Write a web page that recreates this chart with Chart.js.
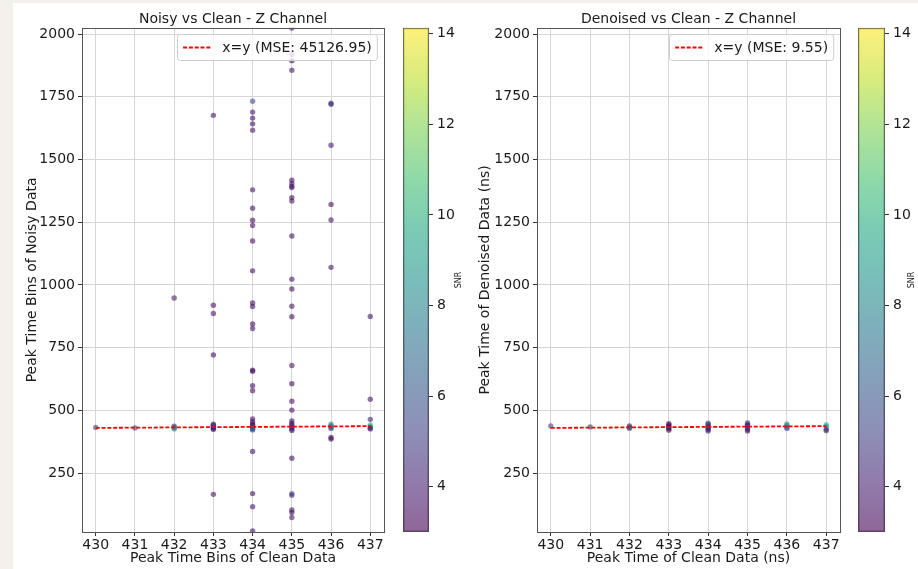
<!DOCTYPE html>
<html>
<head>
<meta charset="utf-8">
<script src="https://cdn.jsdelivr.net/npm/chart.js@4.4.0/dist/chart.umd.min.js"></script>
<style>
    body { margin: 0; background: #f4f1ed; }
    #page { position: absolute; left: 13px; top: 3px; width: 905px; height: 566px; background: #fff; }
    canvas { position: absolute; top: 0; }
</style>
</head>
<body>
<div id="page"></div>
<canvas id="noisyChart" width="395" height="569" style="left:0px"></canvas>
<canvas id="noisyBar" width="75" height="569" style="left:395px"></canvas>
<canvas id="denoisedChart" width="395" height="569" style="left:455px"></canvas>
<canvas id="denoisedBar" width="68" height="569" style="left:850px"></canvas>
<script>
// axis ticks and limits
const xTicks = [430, 431, 432, 433, 434, 435, 436, 437];
const yTicks = [250, 500, 750, 1000, 1250, 1500, 1750, 2000];
const snrTicks = [4, 6, 8, 10, 12, 14];
const xRange = [429.65, 437.35];
const yRange = [15, 2025];
const snrRange = [3.0, 14.13];

// x=y reference line
const refLineX = [430, 437];
const noisyMse = 45126.95;
const denoisedMse = 9.55;

// noisy peaks vs clean peaks
const noisyClean = [
    430,
    431,
    432, 432, 432, 432,
    433, 433, 433, 433, 433, 433, 433, 433, 433, 433, 433, 433,
    434, 434, 434, 434, 434, 434, 434, 434, 434, 434, 434, 434, 434, 434, 434, 434,
    434, 434, 434, 434, 434, 434, 434, 434, 434, 434, 434, 434, 434, 434, 434,
    435, 435, 435, 435, 435, 435, 435, 435, 435, 435, 435, 435, 435, 435, 435, 435,
    435, 435, 435, 435, 435, 435, 435, 435, 435, 435, 435, 435, 435, 435, 435, 435,
    436, 436, 436, 436, 436, 436, 436, 436, 436, 436, 436, 436,
    437, 437, 437, 437, 437, 437, 437
];
const noisyPeak = [
    432,
    430,
    437, 432, 426, 948,
    1676, 919, 886, 721, 165, 445, 440, 436, 432, 428, 424, 441,
    1732, 1689, 1665, 1642, 1617, 1379, 1306, 1258, 1237, 1175, 1056, 928, 914, 844, 826, 660,
    656, 598, 578, 466, 455, 446, 440, 435, 430, 426, 422, 336, 168, 116, 19,
    2024, 1918, 1894, 1856, 1417, 1404, 1393, 1388, 1348, 1335, 1195, 1023, 984, 915, 873, 679,
    606, 536, 501, 458, 448, 440, 435, 430, 426, 420, 309, 168, 162, 103, 93, 73,
    1724, 1720, 1557, 1321, 1259, 1070, 445, 438, 432, 428, 392, 386,
    874, 544, 464, 442, 436, 430, 426
];
const noisySnr = [
    5.0,
    4.6,
    4.2, 5.5, 7.8, 3.8,
    3.6, 3.5, 3.7, 3.4, 3.6, 3.5, 3.3, 3.8, 3.4, 4.0, 3.6, 6.0,
    5.5, 3.6, 3.4, 3.5, 3.7, 3.6, 3.5, 3.4, 3.7, 3.5, 3.6, 3.4, 3.6, 3.5, 3.7, 3.4,
    3.6, 3.5, 3.7, 3.6, 3.4, 3.3, 3.2, 4.5, 6.5, 7.2, 5.0, 3.6, 3.5, 3.7, 3.6,
    3.5, 3.6, 3.4, 3.7, 3.5, 3.6, 3.4, 3.7, 3.5, 3.6, 3.5, 3.7, 3.4, 3.6, 3.5, 3.7,
    3.4, 3.6, 3.5, 3.4, 3.5, 3.3, 5.5, 3.6, 6.8, 3.4, 3.5, 6.0, 4.2, 3.6, 3.5, 3.7,
    5.2, 4.0, 3.6, 3.5, 3.7, 3.6, 8.5, 6.5, 9.2, 5.0, 3.6, 3.2,
    3.6, 3.7, 4.0, 10.5, 9.5, 4.2, 3.8
];

// denoised peaks vs clean peaks
const denoisedClean = [
    430,
    431,
    432, 432, 432,
    433, 433, 433, 433, 433, 433,
    434, 434, 434, 434, 434, 434, 434,
    435, 435, 435, 435, 435, 435, 435,
    436, 436, 436, 436,
    437, 437, 437, 437
];
const denoisedPeak = [
    438,
    434,
    438, 432, 428,
    447, 442, 437, 432, 427, 421,
    449, 444, 439, 433, 428, 423, 418,
    450, 445, 440, 434, 428, 423, 418,
    446, 440, 433, 428,
    443, 437, 425, 419
];
const denoisedSnr = [
    5.0,
    4.8,
    3.8, 4.5, 6.0,
    3.4, 3.3, 3.6, 3.2, 3.8, 3.5,
    5.5, 3.6, 6.5, 3.4, 7.0, 3.5, 4.0,
    4.0, 6.0, 3.4, 5.0, 3.3, 6.5, 3.6,
    9.5, 8.0, 6.5, 5.5,
    10.5, 9.0, 4.5, 3.8
];

const FONT = "'DejaVu Sans', sans-serif";
const TEXT = '#1a1a1a';
Chart.defaults.font.family = FONT;
Chart.defaults.color = TEXT;

const viridisStops = ['#440154', '#482475', '#414487', '#355f8d', '#2a788e', '#21918c',
    '#22a884', '#44bf70', '#7ad151', '#bddf26', '#fde725'];

function hexToRgb(hex) {
    return [1, 3, 5].map(i => parseInt(hex.slice(i, i + 2), 16));
}

function viridis(t, alpha) {
    t = Math.min(1, Math.max(0, t));
    const pos = t * (viridisStops.length - 1);
    const i = Math.min(Math.floor(pos), viridisStops.length - 2);
    const f = pos - i;
    const a = hexToRgb(viridisStops[i]);
    const b = hexToRgb(viridisStops[i + 1]);
    const c = a.map((v, k) => Math.round(v + (b[k] - v) * f));
    return `rgba(${c[0]},${c[1]},${c[2]},${alpha})`;
}

const snrColor = v => viridis((v - snrRange[0]) / (snrRange[1] - snrRange[0]), 0.6);

// legend box drawn inside the plot, upper right
const insideLegend = {
    id: 'insideLegend',
    afterDatasetsDraw(chart) {
        const ds = chart.data.datasets.find(d => d.type === 'line');
        if (!ds) return;
        const { ctx, chartArea: a } = chart;
        const fs = 14;
        ctx.save();
        ctx.font = `${fs}px ${FONT}`;
        const tw = ctx.measureText(ds.label).width;
        const pad = 0.4 * fs, handle = 2 * fs, gap = 0.8 * fs;
        const w = pad + handle + gap + tw + pad, h = 26;
        const x = Math.round(a.right - 7 - w) + 0.5, y = Math.round(a.top + 6.5) + 0.5;
        ctx.beginPath();
        if (ctx.roundRect) ctx.roundRect(x, y, w, h, 3); else ctx.rect(x, y, w, h);
        ctx.fillStyle = 'rgba(255,255,255,0.8)';
        ctx.fill();
        ctx.strokeStyle = '#cccccc';
        ctx.lineWidth = 1;
        ctx.stroke();
        ctx.beginPath();
        ctx.setLineDash(ds.borderDash);
        ctx.strokeStyle = ds.borderColor;
        ctx.lineWidth = ds.borderWidth;
        ctx.moveTo(x + pad, y + h / 2);
        ctx.lineTo(x + pad + handle, y + h / 2);
        ctx.stroke();
        ctx.setLineDash([]);
        ctx.fillStyle = TEXT;
        ctx.textBaseline = 'middle';
        ctx.fillText(ds.label, x + pad + handle + gap, y + h / 2 + 0.5);
        ctx.restore();
    }
};

// axes box on all four sides
const plotFrame = {
    id: 'plotFrame',
    afterDraw(chart) {
        const { ctx, chartArea: a } = chart;
        ctx.save();
        ctx.strokeStyle = '#555';
        ctx.lineWidth = 1;
        const l = Math.round(a.left) + 0.5, t = Math.round(a.top) + 0.5;
        ctx.strokeRect(l, t, Math.round(a.right) - Math.round(a.left), Math.round(a.bottom) - Math.round(a.top));
        ctx.restore();
    }
};

// small rotated label beside the colour bar
const cbarLabel = {
    id: 'cbarLabel',
    afterDraw(chart, args, opts) {
        const { ctx, chartArea: a } = chart;
        ctx.save();
        ctx.translate(opts.x, (a.top + a.bottom) / 2);
        ctx.rotate(-Math.PI / 2);
        ctx.font = `8px ${FONT}`;
        ctx.fillStyle = TEXT;
        ctx.textAlign = 'center';
        ctx.textBaseline = 'middle';
        ctx.fillText(opts.text, 0, 0);
        ctx.restore();
    }
};

function renderScatter(id, cfg) {
    const tickFont = { family: FONT, size: 14 };
    const grid = { color: '#d6d6d6', lineWidth: 1, tickLength: 4, tickColor: '#333', drawTicks: true };
    return new Chart(document.getElementById(id), {
        type: 'scatter',
        data: {
            datasets: [{
                type: 'line',
                label: `x=y (MSE: ${cfg.mse.toFixed(2)})`,
                data: refLineX.map(v => ({ x: v, y: v })),
                borderColor: '#ff0000',
                borderWidth: 1.8,
                borderDash: [4, 1.8],
                pointRadius: 0,
                fill: false,
                order: 0,
                clip: 0
            }, {
                label: 'points',
                data: cfg.x.map((v, i) => ({ x: v, y: cfg.y[i] })),
                pointBackgroundColor: cfg.snr.map(snrColor),
                pointBorderWidth: 0,
                pointRadius: 2.7,
                order: 1,
                clip: 0
            }]
        },
        options: {
            responsive: false,
            animation: false,
            devicePixelRatio: 1,
            layout: { padding: { left: 0, right: cfg.padRight, top: 0, bottom: 0 } },
            plugins: {
                legend: { display: false },
                tooltip: { enabled: false },
                title: {
                    display: true,
                    text: cfg.title,
                    fullSize: false,
                    color: TEXT,
                    font: { family: FONT, size: 14, weight: 'normal' },
                    padding: { top: 10.5, bottom: 0.5 }
                }
            },
            scales: {
                x: {
                    type: 'linear',
                    min: xRange[0],
                    max: xRange[1],
                    afterBuildTicks: s => { s.ticks = xTicks.map(v => ({ value: v })); },
                    afterFit: s => { s.height = 37; },
                    ticks: { font: tickFont, color: TEXT, padding: 1, maxRotation: 0, callback: v => String(v) },
                    grid,
                    border: { display: false },
                    title: { display: true, text: cfg.xLabel, color: TEXT, font: tickFont, padding: { top: 0, bottom: 2 } }
                },
                y: {
                    type: 'linear',
                    min: yRange[0],
                    max: yRange[1],
                    afterBuildTicks: s => { s.ticks = yTicks.map(v => ({ value: v })); },
                    afterFit: s => { s.width = 82; },
                    ticks: { font: tickFont, color: TEXT, padding: 3, callback: v => String(v) },
                    grid,
                    border: { display: false },
                    title: { display: true, text: cfg.yLabel, color: TEXT, font: tickFont, padding: { top: cfg.yTitlePad, bottom: 0 } }
                }
            }
        },
        plugins: [insideLegend, plotFrame]
    });
}

function renderColorbar(id, cfg) {
    return new Chart(document.getElementById(id), {
        type: 'bar',
        data: {
            labels: ['SNR'],
            datasets: [{
                data: [[snrRange[0], snrRange[1]]],
                backgroundColor: c => {
                    const chart = c.chart;
                    if (!chart.chartArea) return 'transparent';
                    const ys = chart.scales.y;
                    const g = chart.ctx.createLinearGradient(0, ys.getPixelForValue(snrRange[0]), 0, ys.getPixelForValue(snrRange[1]));
                    const n = 40;
                    for (let i = 0; i <= n; i++) g.addColorStop(i / n, viridis(i / n, 0.6));
                    return g;
                },
                borderColor: '#555',
                borderWidth: 1,
                borderSkipped: false,
                barPercentage: 1,
                categoryPercentage: 1
            }]
        },
        options: {
            responsive: false,
            animation: false,
            devicePixelRatio: 1,
            layout: { padding: { left: 8, right: 0, top: 27.8, bottom: 37 } },
            plugins: {
                legend: { display: false },
                tooltip: { enabled: false },
                cbarLabel: { text: 'SNR', x: cfg.labelX }
            },
            scales: {
                x: { display: false },
                y: {
                    position: 'right',
                    min: snrRange[0],
                    max: snrRange[1],
                    afterBuildTicks: s => { s.ticks = snrTicks.map(v => ({ value: v })); },
                    afterFit: s => { s.width = cfg.axisWidth; },
                    ticks: { font: { family: FONT, size: 14 }, color: TEXT, padding: 4 },
                    grid: { drawOnChartArea: false, drawTicks: true, tickLength: 4, tickColor: '#333' },
                    border: { display: false }
                }
            }
        },
        plugins: [cbarLabel]
    });
}

renderScatter('noisyChart', {
    title: 'Noisy vs Clean - Z Channel',
    xLabel: 'Peak Time Bins of Clean Data',
    yLabel: 'Peak Time Bins of Noisy Data',
    x: noisyClean, y: noisyPeak, snr: noisySnr,
    mse: noisyMse,
    padRight: 11,
    yTitlePad: 24
});
renderColorbar('noisyBar', { labelX: 64, axisWidth: 41 });

renderScatter('denoisedChart', {
    title: 'Denoised vs Clean - Z Channel',
    xLabel: 'Peak Time of Clean Data (ns)',
    yLabel: 'Peak Time of Denoised Data (ns)',
    x: denoisedClean, y: denoisedPeak, snr: denoisedSnr,
    mse: denoisedMse,
    padRight: 10,
    yTitlePad: 22
});
renderColorbar('denoisedBar', { labelX: 62, axisWidth: 33 });
</script>
</body>
</html>
